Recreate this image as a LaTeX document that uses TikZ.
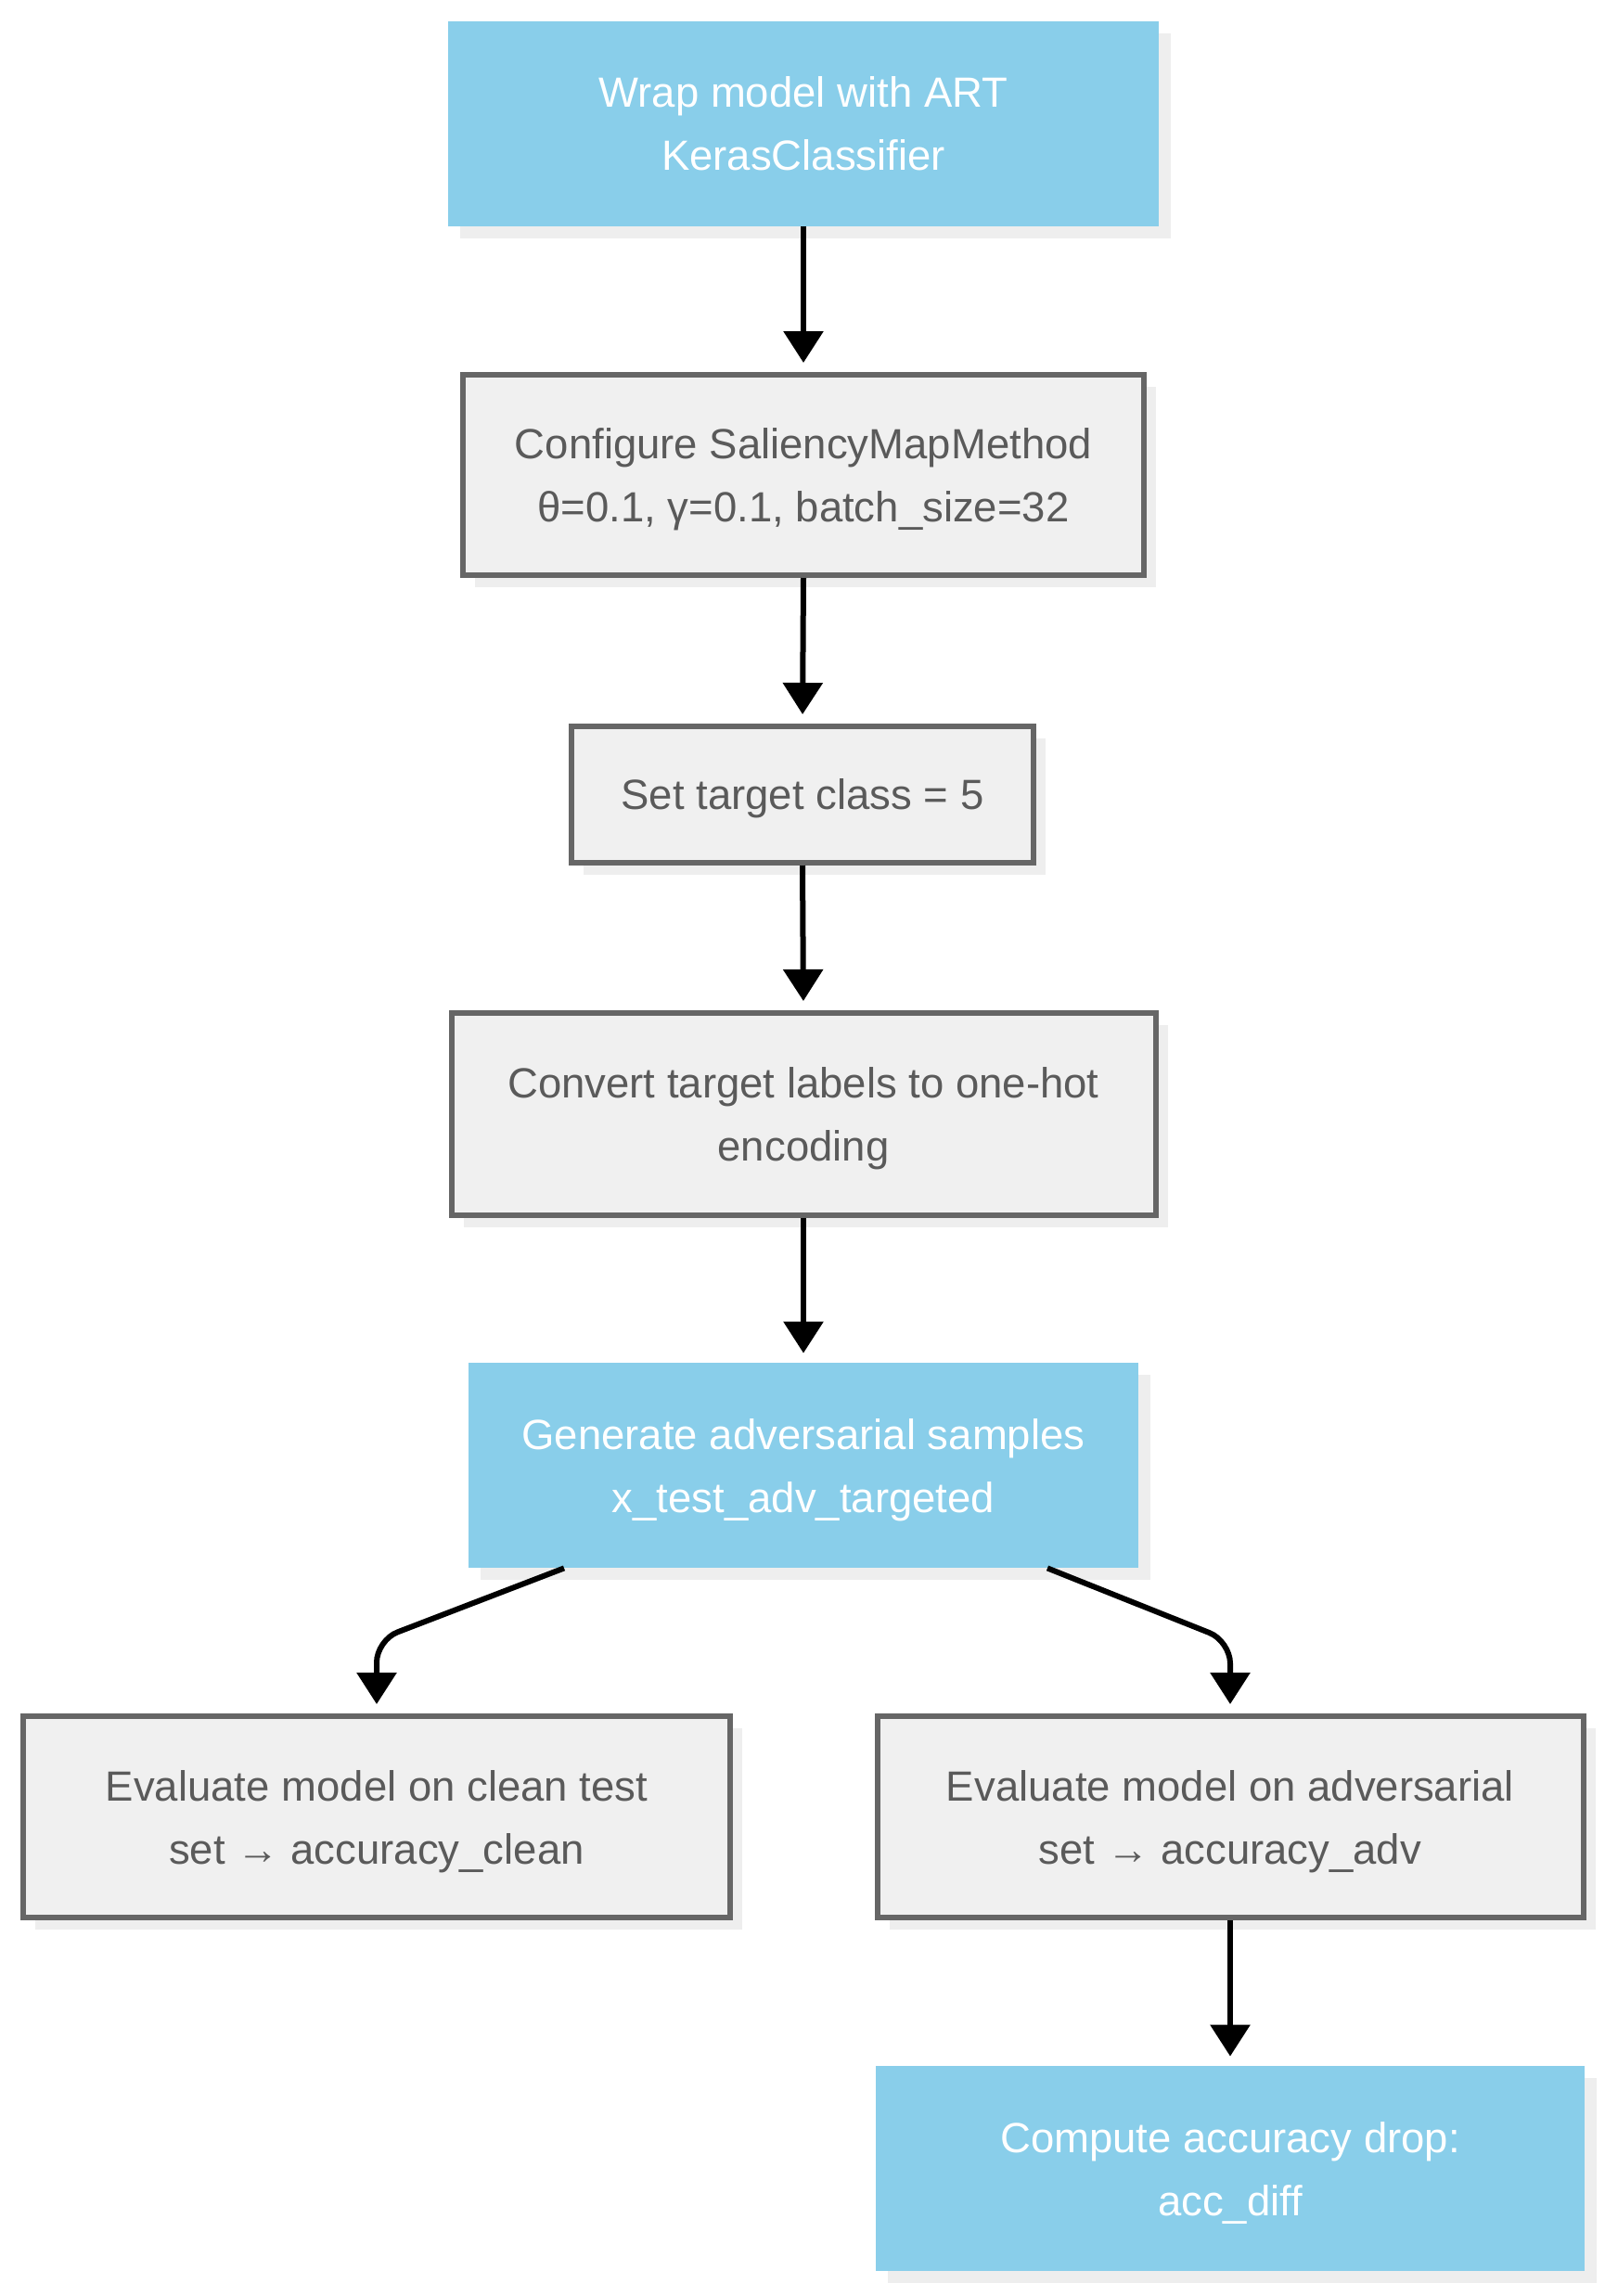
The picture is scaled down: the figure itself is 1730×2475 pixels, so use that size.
\documentclass[tikz,border=0pt]{standalone}
\usepackage{fontspec}
\setmainfont{Liberation Sans}
\usetikzlibrary{arrows.meta,shadows,calc}
\definecolor{bluefill}{HTML}{89CEEA}
\definecolor{grayfill}{HTML}{F0F0F0}
\definecolor{grayline}{HTML}{666666}
\definecolor{graytext}{HTML}{5A5A5A}
\definecolor{shadowc}{HTML}{EEEEEE}
\begin{document}
\begin{tikzpicture}[x=0.5pt,y=-0.5pt,
 box/.style={rectangle, inner sep=0pt, align=center, text depth=0pt,
   font=\fontsize{22.75pt}{34pt}\selectfont,
   drop shadow={shadow xshift=6.5pt, shadow yshift=-6.5pt, fill=shadowc, opacity=1}},
 bluebox/.style={box, fill=bluefill, text=white},
 graybox/.style={box, fill=grayfill, draw=grayline, line width=3pt, text=graytext},
 arr/.style={line width=3pt, -{Triangle[width=21pt,length=17pt]}, shorten >=5pt, rounded corners=12pt}]
\useasboundingbox (0,0) rectangle (1730,2475);
\fill[white] (0,0) rectangle (1730,2475);

\node[bluebox, minimum width=383pt, minimum height=110.5pt] (n1) at (866,133.5) {Wrap model with ART\\KerasClassifier};
\node[graybox, minimum width=367pt, minimum height=108pt] (n2) at (866,512) {Configure SaliencyMapMethod\\θ=0.1, γ=0.1, batch\_size=32};
\node[graybox, minimum width=249pt, minimum height=73.5pt] (n3) at (865,856.5) {Set target class = 5};
\node[graybox, minimum width=379.5pt, minimum height=109pt] (n4) at (866,1201) {Convert target labels to one-hot\\encoding};
\node[bluebox, minimum width=361pt, minimum height=110.5pt] (n5) at (866,1579.5) {Generate adversarial samples\\x\_test\_adv\_targeted};
\node[graybox, minimum width=381pt, minimum height=108.5pt] (n6) at (406,1958.5) {Evaluate model on clean test\\set → accuracy\_clean};
\node[graybox, minimum width=380.5pt, minimum height=108.5pt] (n7) at (1326,1958.5) {Evaluate model on adversarial\\set → accuracy\_adv};
\node[bluebox, minimum width=382pt, minimum height=110.5pt] (n8) at (1326,2337.5) {Compute accuracy drop:\\acc\_diff};

\coordinate (c1) at (0,1768);
\coordinate (c2) at (0,1769);

\draw[arr] (n1.south) -- (n2.north);
\draw[arr] (n2.south) -- (n3.north);
\draw[arr] (n3.south) -- (n4.north);
\draw[arr] (n4.south) -- (n5.north);
\draw[arr] ([xshift=-129pt]n5.south) -- (n6.north |- c1) -- (n6.north);
\draw[arr] ([xshift=131.5pt]n5.south) -- (n7.north |- c2) -- (n7.north);
\draw[arr] (n7.south) -- (n8.north);
\end{tikzpicture}
\end{document}
